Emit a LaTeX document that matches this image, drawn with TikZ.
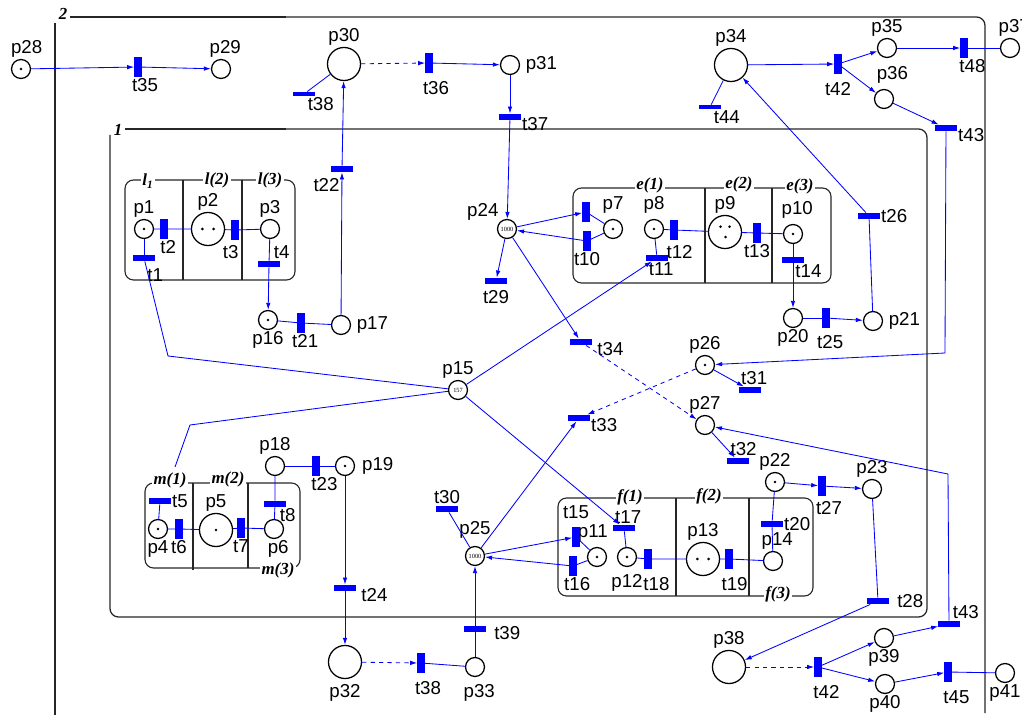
\documentclass[tikz,border=0pt]{standalone}
\usepackage{fontspec}
\setmainfont{Liberation Sans}
\newfontfamily\netfont{Liberation Serif}
\usetikzlibrary{arrows.meta}

\tikzset{
  place/.style={circle,draw,line width=0.9pt,minimum size=13.5pt,inner sep=0pt},
  bigplace/.style={place,minimum size=23.5pt},
  bankplace/.style={place,font=\netfont\fontsize{4.5}{5}\selectfont},
  tok/.style={path picture={\fill (path picture bounding box.center) circle (1pt);}},
  toktwo/.style={path picture={
      \fill ([xshift=-4pt]path picture bounding box.center) circle (1pt);
      \fill ([xshift=4pt]path picture bounding box.center) circle (1pt);}},
  tokthree/.style={path picture={
      \fill ([shift={(-3.2pt,3.8pt)}]path picture bounding box.center) circle (1pt);
      \fill ([shift={(3.2pt,3.8pt)}]path picture bounding box.center) circle (1pt);
      \fill ([shift={(0.4pt,-3.6pt)}]path picture bounding box.center) circle (1pt);}},
  vtr/.style={fill=blue,minimum width=5pt,minimum height=14pt,inner sep=0pt},
  htr/.style={fill=blue,minimum width=15pt,minimum height=4.5pt,inner sep=0pt},
  thintr/.style={htr,minimum height=3pt},
  link/.style={blue,line width=0.6pt},
  arr/.style={link,-{Latex[length=5pt,width=3.2pt]}},
  darr/.style={arr,dashed},
  frameline/.style={line width=0.9pt,black!85},
  subnet/.style={line width=0.8pt,black!85},
  sublab/.style={fill=white,inner sep=1pt,font=\netfont\bfseries\itshape\fontsize{12}{12}\selectfont},
  every label/.style={inner sep=0.8pt,font=\fontsize{13.3}{14}\selectfont},
  label distance=0pt
}

\begin{document}
\begin{tikzpicture}[x=0.025cm,y=-0.025cm]
\useasboundingbox (0,0) rectangle (1022,715);

% frames 2 and 1
\draw[frameline] (55,23) -- (55,715);
\draw[frameline,rounded corners=6pt] (70,17) -- (985,17) -- (985,713);
\draw[frameline,line width=1.7pt] (70,17) -- (286,17);
\node[sublab,fill=none] (n2) at (63,14) {2};
\draw[frameline,rounded corners=6pt] (125,129) -- (927,129) -- (927,617) -- (110,617) -- (110,135);
\draw[frameline,line width=1.7pt] (125,129) -- (286,129);
\node[sublab,fill=none] (n1) at (118,130) {1};

% subnets
\draw[subnet,rounded corners=6pt] (125,180) rectangle (295,280);
\draw[subnet] (183,180) -- (183,280) (242,180) -- (242,280);
\node[sublab] (l1) at (148,181) {l\textsubscript{1}};
\node[sublab] (l2) at (217,180) {l(2)};
\node[sublab] (l3) at (270,180) {l(3)};

\draw[subnet,rounded corners=6pt] (573,188) rectangle (831,283);
\draw[subnet] (705,188) -- (705,283) (772,188) -- (772,283);
\node[sublab] (e1) at (650,185) {e(1)};
\node[sublab] (e2) at (739,184) {e(2)};
\node[sublab] (e3) at (800,186) {e(3)};

\draw[subnet,rounded corners=6pt] (558,498) rectangle (813,596);
\draw[subnet] (676,498) -- (676,596) (749,498) -- (749,596);
\node[sublab] (f1) at (630,497) {f(1)};
\node[sublab] (f2) at (709,496) {f(2)};
\node[sublab] (f3) at (778,594) {f(3)};

\draw[subnet,rounded corners=6pt] (145,483) rectangle (300,568);
\draw[subnet] (193,483) -- (193,570) (248,483) -- (248,568);
\node[sublab] (m1) at (170,480) {m(1)};
\node[sublab] (m2) at (228,479) {m(2)};
\node[sublab] (m3) at (278,570) {m(3)};

% places
\node[place,tok,label={[xshift=4pt]above:p28}] (p28) at (21,69) {};
\node[place,label={[xshift=3pt]above:p29}] (p29) at (221,69) {};
\node[bigplace,label=above:p30] (p30) at (344,64) {};
\node[place,label={[xshift=3pt]right:p31}] (p31) at (510,65) {};
\node[bankplace,label=above left:p24] (p24) at (507,229) {1000};
\node[place,label={[xshift=3pt]right:p17}] (p17) at (341,325) {};
\node[place,tok,label=below:p16] (p16) at (268,320) {};
\node[place,tok,label=above:p1] (p1) at (144,229) {};
\node[bigplace,toktwo,label=above:p2] (p2) at (208,229) {};
\node[place,label=above:p3] (p3) at (270,229) {};
\node[place,tok,label={[yshift=3pt]above:p7}] (p7) at (613,229) {};
\node[place,tok,label={[yshift=3pt]above:p8}] (p8) at (654,229) {};
\node[bigplace,tokthree,label=above:p9] (p9) at (725,232) {};
\node[place,tok,label={[xshift=3pt,yshift=3pt]above:p10}] (p10) at (793,234) {};
\node[place,label=below:p20] (p20) at (793,318) {};
\node[place,label={[xshift=3pt]right:p21}] (p21) at (873,321) {};
\node[bigplace,label=above:p34] (p34) at (731,65) {};
\node[place,label=above:p35] (p35) at (887,48) {};
\node[place,label={[xshift=6pt,yshift=3pt]above:p36}] (p36) at (884,99) {};
\node[place,label={[xshift=3pt]above:p37}] (p37) at (1010,48) {};
\node[place,tok,label=above:p26] (p26) at (705,365) {};
\node[place,label=above:p27] (p27) at (705,425) {};
\node[bankplace,label=above:p15] (p15) at (458,390) {157};
\node[place,tok,label=above:p22] (p22) at (775,482) {};
\node[place,label=above:p23] (p23) at (872,489) {};
\node[place,label={[xshift=3pt]above:p14}] (p14) at (773,561) {};
\node[place,tok,label={[xshift=-3pt,yshift=3pt]above:p11}] (p11) at (597,557) {};
\node[place,tok,label={[yshift=-4pt]below:p12}] (p12) at (627,557) {};
\node[bigplace,toktwo,label=above:p13] (p13) at (703,559) {};
\node[bigplace,label=above:p38] (p38) at (729,667) {};
\node[place,label=below:p39] (p39) at (884,638) {};
\node[place,label=below:p40] (p40) at (885,684) {};
\node[place,label=below:p41] (p41) at (1005,673) {};
\node[place,tok,label=below:p4] (p4) at (158,529) {};
\node[bigplace,tok,label=above:p5] (p5) at (216,530) {};
\node[place,label={[xshift=3pt]below:p6}] (p6) at (274,529) {};
\node[place,label=above:p18] (p18) at (275,466) {};
\node[place,tok,label={[xshift=4pt]right:p19}] (p19) at (345,466) {};
\node[bankplace,label={[yshift=4pt]above:p25}] (p25) at (475,556) {1000};
\node[bigplace,label={[yshift=-3pt]below:p32}] (p32) at (345,662) {};
\node[place,label={[xshift=3pt,yshift=-4pt]below:p33}] (p33) at (475,667) {};

% transitions
\node[vtr,label={[xshift=5pt]below:t35}] (t35) at (138,67) {};
\node[thintr,label=below right:t38] (t38a) at (304,94) {};
\node[vtr,label={[xshift=5pt,yshift=-5pt]below:t36}] (t36) at (429,63) {};
\node[htr,label={[yshift=-5pt]right:t37}] (t37) at (510,117) {};
\node[htr,label={[xshift=-11pt,yshift=-3pt]below:t22}] (t22) at (342,169) {};
\node[vtr,label={[xshift=3pt]below:t21}] (t21) at (301,323) {};
\node[vtr,label={[xshift=3pt]below:t2}] (t2) at (164,229) {};
\node[vtr,label={[xshift=-3pt,yshift=-3pt]below:t3}] (t3) at (235,230) {};
\node[htr,label=above right:t4] (t4) at (269,264) {};
\node[htr,label={[xshift=8pt,yshift=-4pt]below:t1}] (t1) at (144,258) {};
\node[thintr,label=below right:t44] (t44) at (710,107) {};
\node[vtr,label={[yshift=-5pt]below:t42}] (t42a) at (838,64) {};
\node[vtr,label={[xshift=6pt]below:t48}] (t48) at (964,48) {};
\node[htr,label={[yshift=-5pt]right:t43}] (t43a) at (946,128) {};
\node[htr,label=right:t26] (t26) at (869,216) {};
\node[vtr] (t9) at (586,212) {};
\node[vtr,label=below:t10] (t10) at (587,241) {};
\node[vtr,label={[xshift=4pt,yshift=-3pt]below:t12}] (t12) at (674,230) {};
\node[vtr,label=below:t13] (t13) at (757,233) {};
\node[htr,label={[xshift=11pt]below:t14}] (t14) at (793,260) {};
\node[htr,label={[xshift=3pt]below:t11}] (t11) at (657,258) {};
\node[vtr,label={[xshift=3pt,yshift=-4pt]below:t25}] (t25) at (826,318) {};
\node[htr,label={[yshift=-3pt]below:t29}] (t29) at (496,281) {};
\node[htr,label={[xshift=3pt,yshift=-5pt]right:t34}] (t34) at (581,342) {};
\node[htr,label={[yshift=-5pt]right:t33}] (t33) at (579,418) {};
\node[htr,label={[xshift=3pt]above:t31}] (t31) at (750,390) {};
\node[htr,label={[xshift=4pt]above:t32}] (t32) at (738,461) {};
\node[vtr,label={[xshift=5pt,yshift=-3pt]below:t27}] (t27) at (822,486) {};
\node[htr,label=right:t20] (t20) at (772,524) {};
\node[htr,label={[xshift=5pt]right:t28}] (t28) at (878,601) {};
\node[vtr,label={[yshift=5pt]above:t15}] (t15) at (576,537) {};
\node[vtr,label={[xshift=3pt]below:t16}] (t16) at (573,566) {};
\node[htr,label={[xshift=3pt]above:t17}] (t17) at (624,528) {};
\node[vtr,label={[xshift=6pt,yshift=-5pt]below:t18}] (t18) at (648,559) {};
\node[vtr,label={[xshift=4pt,yshift=-5pt]below:t19}] (t19) at (729,559) {};
\node[vtr,label={[xshift=6pt,yshift=-5pt]below:t42}] (t42b) at (818,667) {};
\node[htr,label={[xshift=12pt]above:t43}] (t43b) at (949,624) {};
\node[vtr,label={[xshift=6pt,yshift=-5pt]below:t45}] (t45) at (948,672) {};
\node[htr,label=right:t5] (t5) at (160,501) {};
\node[vtr,label=below:t6] (t6) at (179,529) {};
\node[vtr,label=below:t7] (t7) at (241,528) {};
\node[htr,label=below right:t8] (t8) at (275,504) {};
\node[vtr,label={[xshift=6pt]below:t23}] (t23) at (316,466) {};
\node[htr,label={[xshift=3pt,yshift=-5pt]right:t24}] (t24) at (345,588) {};
\node[vtr,label={[xshift=5pt,yshift=-5pt]below:t38}] (t38b) at (421,663) {};
\node[htr,label={[xshift=5pt,yshift=-3pt]right:t39}] (t39) at (475,629) {};
\node[htr,label=above:t30] (t30) at (447,509) {};

% bends
\coordinate (b1) at (168,356);
\coordinate (b2) at (190,425);
\coordinate (b3) at (175,467);
\coordinate (b4) at (945,353);
\coordinate (b5) at (948,474);

% arcs, upper part
\draw[arr] (p28) -- (t35);
\draw[arr] (t35) -- (p29);
\draw[darr] (p30) -- (t36);
\draw[arr] (t36) -- (p31);
\draw[link] (p30) -- (t38a);
\draw[arr] (p31) -- (t37);
\draw[arr] (t37) -- (p24);
\draw[arr] (p17) -- (t22);
\draw[arr] (t22) -- (p30);
\draw[link] (p16) -- (t21) -- (p17);
\draw[link] (p1) -- (t2) -- (p2) -- (t3) -- (p3);
\draw[link] (p1) -- (t1);
\draw[link] (p3) -- (t4);
\draw[arr] (t4) -- (p16);
\draw[link] (t1) -- (b1) -- (p15);
\draw[link] (p15) -- (b2) -- (b3);
\draw[arr] (p24) -- (t9);
\draw[arr] (t10) -- (p24);
\draw[link] (p7) -- (t9) (p7) -- (t10);
\draw[arr] (p24) -- (t29);
\draw[arr] (p24) -- (t34);
\draw[link] (p8) -- (t12) -- (p9) -- (t13) -- (p10);
\draw[link] (p8) -- (t11);
\draw[arr] (p15) -- (t11);
\draw[link] (p10) -- (t14);
\draw[arr] (t14) -- (p20);
\draw[link] (p20) -- (t25);
\draw[arr] (t25) -- (p21);
\draw[link] (p21) -- (t26);
\draw[arr] (t26) -- (p34);
\draw[link] (p34) -- (t44);
\draw[arr] (p34) -- (t42a);
\draw[arr] (t42a) -- (p35);
\draw[arr] (t42a) -- (p36);
\draw[arr] (p35) -- (t48);
\draw[link] (t48) -- (p37);
\draw[arr] (p36) -- (t43a);
\draw[arr] (t43a) -- (b4) -- (p26);

% arcs, lower part
\draw[arr] (p26) -- (t31);
\draw[darr] (p26) -- (t33);
\draw[darr] (t34) -- (p27);
\draw[arr] (p27) -- (t32);
\draw[arr] (t43b) -- (b5) -- (p27);
\draw[arr] (p22) -- (t27);
\draw[arr] (t27) -- (p23);
\draw[link] (p22) -- (t20) -- (p14);
\draw[link] (p23) -- (t28);
\draw[arr] (t28) -- (p38);
\draw[darr] (p38) -- (t42b);
\draw[arr] (t42b) -- (p39);
\draw[arr] (t42b) -- (p40);
\draw[arr] (p39) -- (t43b);
\draw[arr] (p40) -- (t45);
\draw[link] (t45) -- (p41);
\draw[arr] (p25) -- (t15);
\draw[arr] (t16) -- (p25);
\draw[link] (p11) -- (t15) (p11) -- (t16);
\draw[link] (t17) -- (p12);
\draw[link] (p12) -- (t18) -- (p13) -- (t19) -- (p14);
\draw[arr] (p15) -- (t17);
\draw[arr] (p25) -- (t33);
\draw[link] (t30) -- (p25);
\draw[link] (p33) -- (t39);
\draw[arr] (t39) -- (p25);
\draw[darr] (p32) -- (t38b);
\draw[link] (t38b) -- (p33);
\draw[link] (p18) -- (t23) -- (p19);
\draw[arr] (p19) -- (t24);
\draw[arr] (t24) -- (p32);
\draw[link] (p18) -- (t8) -- (p6) -- (t7) -- (p5) -- (t6) -- (p4) -- (t5);

\end{tikzpicture}
\end{document}
